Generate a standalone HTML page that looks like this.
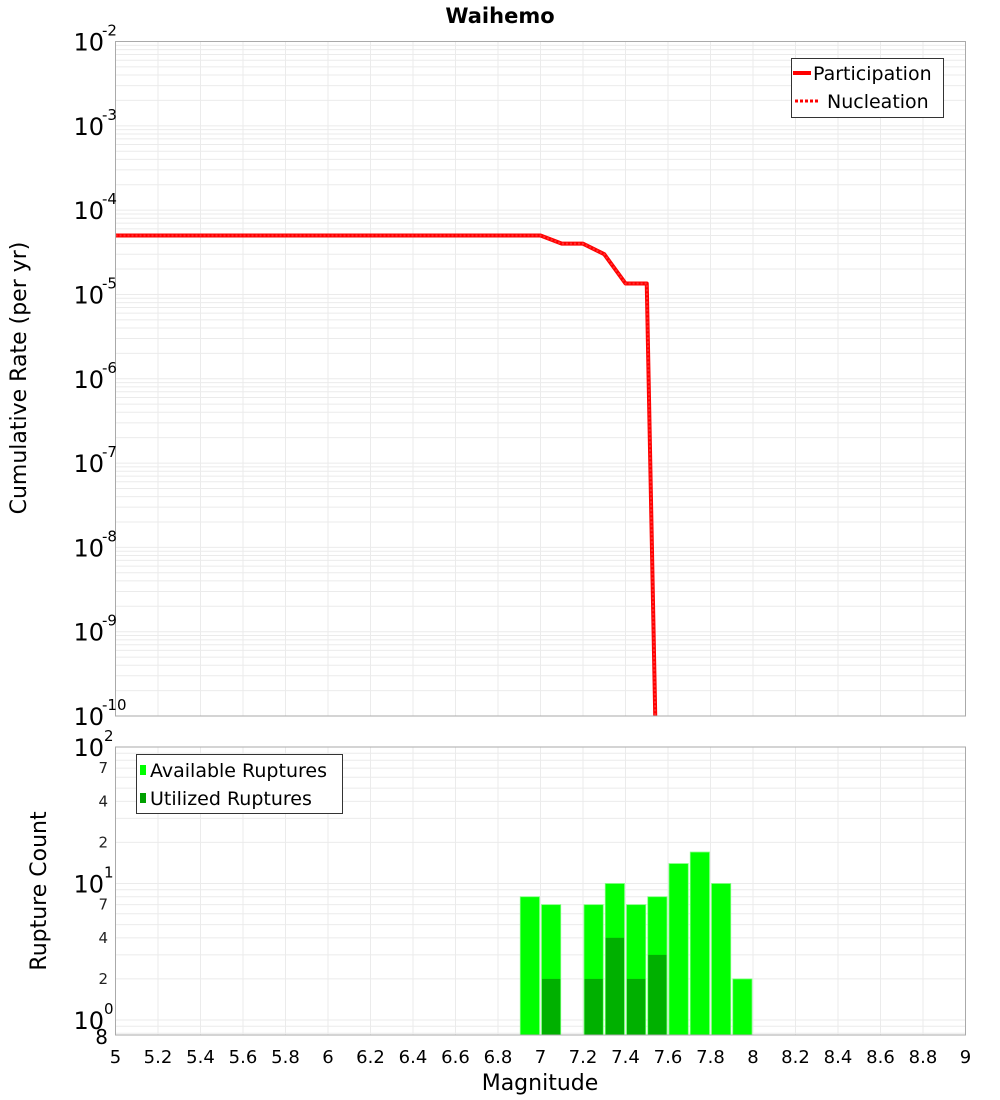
<!DOCTYPE html>
<html><head><meta charset="utf-8"><style>
body{margin:0;background:#fff}
svg text{font-family:"DejaVu Sans","Liberation Sans",sans-serif}
</style></head><body>
<svg id="c" width="1000" height="1100" xmlns="http://www.w3.org/2000/svg" style="position:absolute;left:0;top:0">
<text x="500" y="23" font-size="21" font-weight="bold" text-anchor="middle">Waihemo</text>
<text transform="translate(26,378) rotate(-90)" font-size="22" text-anchor="middle">Cumulative Rate (per yr)</text>
<text transform="translate(46,891) rotate(-90)" font-size="22" text-anchor="middle">Rupture Count</text>
<text x="540" y="1090" font-size="22" text-anchor="middle">Magnitude</text>
<g id="gtop"></g><g id="gbot"></g>
</svg>
<script>
const magnitudes=[5,5.5,6,6.5,7.0,7.1,7.2,7.3,7.4,7.5,7.55];
const participation=[5e-5,5e-5,5e-5,5e-5,5e-5,4e-5,4e-5,3e-5,1.35e-5,1.35e-5,5e-12];
const binCenters=[6.95,7.05,7.25,7.35,7.45,7.55,7.65,7.75,7.85,7.95];
const available=[8,7,7,10,7,8,14,17,10,2];
const utilized=[0,2,2,4,2,3,0,0,0,0];
const xTicks=[5,5.2,5.4,5.6,5.8,6,6.2,6.4,6.6,6.8,7,7.2,7.4,7.6,7.8,8,8.2,8.4,8.6,8.8,9];
const topExps=[-2,-3,-4,-5,-6,-7,-8,-9,-10];

const NS="http://www.w3.org/2000/svg";
const L=115.5,R=965.5,T1=41.5,B1=716,T2=747,B2=1035;
const X=m=>L+(m-5)/4*(R-L);
const Y1=v=>T1+(-2-Math.log10(v))*(B1-T1)/8;
const DEC2=136.5;
const Y2=v=>T2+(2-Math.log10(v))*DEC2;
function mk(p,t,a,txt){const e=document.createElementNS(NS,t);for(const k in a)e.setAttribute(k,a[k]);if(txt!==undefined)e.textContent=txt;p.appendChild(e);return e;}
const gTop=document.getElementById('gtop'),gBot=document.getElementById('gbot');
const svgEl=document.getElementById('c');

for(let d=-10;d<-2;d++)for(let k=1;k<10;k++){const y=Y1(k*Math.pow(10,d));if(y<T1)continue;
 const g=mk(gTop,'line',{x1:L,x2:R,y1:y,y2:y,stroke:'#ebebeb','stroke-width':1});
 
 }
xTicks.forEach(m=>{
 const g=mk(gTop,'line',{x1:X(m),x2:X(m),y1:T1,y2:B1,stroke:'#ebebeb','stroke-width':1});
 
 
 const g2=mk(gBot,'line',{x1:X(m),x2:X(m),y1:T2,y2:B2,stroke:'#ebebeb','stroke-width':1});
 
 
 const t=mk(svgEl,'text',{x:X(m),y:1063,'font-size':18,'text-anchor':'middle'},String(m));
 
 
});
topExps.forEach(e=>{const y=Y1(Math.pow(10,e));
 const t=mk(svgEl,'text',{x:104,y:y+9,'font-size':24,'text-anchor':'end'},'10');
 
 
 const s=mk(svgEl,'text',{x:102,y:y-6,'font-size':15},String(e));
 
 
});
const cp=mk(gTop,'clipPath',{id:'cp1'});mk(cp,'rect',{x:L,y:T1,width:R-L,height:B1-T1});
const pts=magnitudes.map((m,i)=>X(m)+','+Y1(participation[i])).join(' ');
const pl=mk(gTop,'polyline',{points:pts,fill:'none',stroke:'#ff0000','stroke-width':4,'clip-path':'url(#cp1)','stroke-linejoin':'round'});


const nl=mk(gTop,'polyline',{points:pts,fill:'none',stroke:'#ff3030','stroke-width':2,'stroke-dasharray':'2,2','clip-path':'url(#cp1)'});


const f1=mk(gTop,'rect',{x:L,y:T1,width:R-L,height:B1-T1,fill:'none',stroke:'#aaa'});



const bMin=Math.pow(10,2-(B2-T2)/DEC2);
for(let d=-1;d<2;d++)for(let k=1;k<10;k++){const v=k*Math.pow(10,d);if(v<bMin)continue;const y=Y2(v);
 const g=mk(gBot,'line',{x1:L,x2:R,y1:y,y2:y,stroke:'#ebebeb','stroke-width':1});
 
 }
[[100,'2'],[10,'1'],[1,'0']].forEach(([v,e])=>{const y=Y2(v);
 const t=mk(svgEl,'text',{x:104,y:y+9,'font-size':24,'text-anchor':'end'},'10');
 
 
 const s=mk(svgEl,'text',{x:104,y:y-6,'font-size':15},e);
 
 });
[70,40,20,7,4,2].forEach(v=>{const t=mk(svgEl,'text',{x:108,y:Y2(v)+5,'font-size':15,'text-anchor':'end',fill:'#222'},String(v)[0]);
 
 });
const t8=mk(svgEl,'text',{x:108,y:B2+9,'font-size':20,'text-anchor':'end'},'8');


const bw=X(5.1)-X(5);
binCenters.forEach((m,i)=>{
 if(available[i]>0){const y=Y2(available[i]);
  const r=mk(gBot,'rect',{x:X(m)-bw/2+1,y:y,width:bw-2,height:B2-y,fill:'#00ff00',stroke:'#7fff7f','stroke-width':0.8});
  
  }
 if(utilized[i]>0){const y=Y2(utilized[i]);
  const r=mk(gBot,'rect',{x:X(m)-bw/2+1.5,y:y,width:bw-3,height:B2-y,fill:'#00b000'});
  
  }
});
const f2=mk(gBot,'rect',{x:L,y:T2,width:R-L,height:B2-T2,fill:'none',stroke:'#aaa'});


</script>
<svg style="position:absolute;left:0;top:0" width="1000" height="1100">
<g>
<rect x="791.5" y="58.5" width="152" height="59" fill="#fff" stroke="#333"/>
<line x1="793" y1="73" x2="811" y2="73" stroke="#f00" stroke-width="4"/>
<text x="813" y="80" font-size="19" font-family="DejaVu Sans,sans-serif">Participation</text>
<line x1="795" y1="101" x2="820" y2="101" stroke="#f00" stroke-width="3" stroke-dasharray="3,2"/>
<text x="827" y="108" font-size="19" font-family="DejaVu Sans,sans-serif">Nucleation</text>
</g>
<g>
<rect x="136.5" y="754.5" width="206" height="59" fill="#fff" stroke="#333"/>
<rect x="140" y="765" width="6" height="10" fill="#00ff00"/>
<text x="150" y="777" font-size="19" font-family="DejaVu Sans,sans-serif">Available Ruptures</text>
<rect x="140" y="793" width="6" height="10" fill="#00a000"/>
<text x="150" y="805" font-size="19" font-family="DejaVu Sans,sans-serif">Utilized Ruptures</text>
</g>
</svg>
</body></html>
